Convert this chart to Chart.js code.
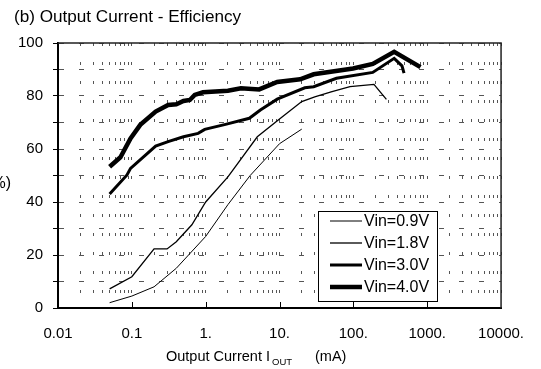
<!DOCTYPE html>
<html>
<head>
<meta charset="utf-8">
<script src="https://cdn.jsdelivr.net/npm/chart.js@4/dist/chart.umd.min.js"></script>
<style>
  html, body { margin: 0; padding: 0; background: #fff; }
  #wrap { width: 541px; height: 369px; position: relative; }
</style>
</head>
<body>
<div id="wrap"><canvas id="chart" width="541" height="369"></canvas></div>
<script>
// efficiency curves (x in mA, y in %)
const vin09X = [0.05, 0.1, 0.2, 0.4, 1.0, 2.0, 4.0, 10, 20];
const vin09Y = [2.0, 4.5, 8.0, 15.0, 27.0, 39.0, 50.0, 62.0, 67.5];

const vin18X = [0.05, 0.1, 0.2, 0.3, 0.4, 0.65, 1.0, 2.0, 5.0, 10, 20, 30, 50, 90, 190, 280];
const vin18Y = [7.2, 11.8, 22.3, 22.3, 25.0, 31.4, 40.0, 49.5, 64.6, 71.3, 77.9, 79.7, 81.6, 83.5, 84.4, 78.7];

const vin30X = [0.05, 0.086, 0.096, 0.21, 0.31, 0.5, 0.79, 0.97, 1.8, 3.9, 5.5, 9.3, 22, 29, 59, 183, 357, 455, 485];
const vin30Y = [43.0, 50.2, 52.7, 61.1, 62.8, 64.6, 65.9, 67.4, 69.2, 71.6, 74.7, 78.8, 83.1, 83.5, 86.7, 88.9, 94.2, 91.4, 88.6];

const vin40X = [0.05, 0.07, 0.096, 0.13, 0.21, 0.31, 0.4, 0.5, 0.61, 0.71, 0.92, 2.0, 3.0, 5.3, 9.3, 19, 29, 99, 183, 357, 810];
const vin40Y = [53.3, 56.9, 64.0, 69.1, 74.1, 76.6, 76.9, 78.1, 78.5, 80.4, 81.4, 82.0, 82.9, 82.5, 85.3, 86.3, 88.2, 90.4, 92.1, 96.7, 90.9];

const seriesLabels = ['Vin=0.9V', 'Vin=1.8V', 'Vin=3.0V', 'Vin=4.0V'];
const seriesWidths = [1, 1.3, 3, 4.5];

const xDecades = [0.01, 0.1, 1, 10, 100, 1000, 10000];
const xDecadeLabels = ['0.01', '0.1', '1.', '10.', '100.', '1000.', '10000.'];
const yLabelValues = [0, 20, 40, 60, 80, 100];

const FONT = '"Liberation Sans", Arial, sans-serif';

function pairs(xs, ys) {
  return xs.map((x, i) => ({ x: x, y: ys[i] }));
}

const allX = [vin09X, vin18X, vin30X, vin40X];
const allY = [vin09Y, vin18Y, vin30Y, vin40Y];

// frame, inside decade ticks, legend and titles
const decorPlugin = {
  id: 'decor',
  afterDatasetsDraw(chart) {
    const ctx = chart.ctx;
    const a = chart.chartArea;
    const xs = chart.scales.x;

    ctx.save();
    // top and right frame
    ctx.strokeStyle = '#222';
    ctx.lineWidth = 1.5;
    ctx.beginPath();
    ctx.moveTo(a.left, a.top);
    ctx.lineTo(a.right, a.top);
    ctx.lineTo(a.right, a.bottom);
    ctx.stroke();

    // decade ticks pointing up from the bottom axis
    ctx.strokeStyle = '#000';
    ctx.lineWidth = 1;
    xDecades.slice(1, -1).forEach(v => {
      const px = Math.round(xs.getPixelForValue(v)) + 0.5;
      ctx.beginPath();
      ctx.moveTo(px, a.bottom);
      ctx.lineTo(px, a.bottom - 6);
      ctx.stroke();
    });

    // legend box
    const lx = 318, ly = 211, lw = 119, lh = 90;
    ctx.fillStyle = '#fff';
    ctx.fillRect(lx, ly, lw, lh);
    ctx.strokeStyle = '#000';
    ctx.lineWidth = 1;
    ctx.strokeRect(lx + 0.5, ly + 0.5, lw, lh);
    ctx.font = '16px ' + FONT;
    ctx.textBaseline = 'middle';
    ctx.textAlign = 'left';
    chart.data.datasets.forEach((ds, i) => {
      const ry = 221 + i * 22;
      ctx.strokeStyle = '#000';
      ctx.lineWidth = ds.borderWidth;
      ctx.beginPath();
      ctx.moveTo(330, ry);
      ctx.lineTo(362, ry);
      ctx.stroke();
      ctx.fillStyle = '#000';
      ctx.fillText(ds.label, 364, ry + 1);
    });

    // titles
    ctx.fillStyle = '#000';
    ctx.font = '16px ' + FONT;
    ctx.save();
    ctx.translate(14, 18);
    ctx.scale(1.07, 1);
    ctx.fillText('(b) Output Current - Efficiency', 0, 0);
    ctx.restore();

    ctx.font = '16px ' + FONT;
    ctx.textAlign = 'right';
    ctx.fillText('(%)', 11, 184);

    ctx.textAlign = 'left';
    ctx.font = '14.5px ' + FONT;
    ctx.fillText('Output Current I', 166, 357);
    ctx.font = '9.5px ' + FONT;
    ctx.fillText('OUT', 272, 362);
    ctx.font = '14.5px ' + FONT;
    ctx.fillText('(mA)', 315, 357);
    ctx.restore();
  }
};

new Chart(document.getElementById('chart'), {
  type: 'line',
  data: {
    datasets: seriesLabels.map((label, i) => ({
      label: label,
      data: pairs(allX[i], allY[i]),
      borderColor: '#000',
      borderWidth: seriesWidths[i],
      pointRadius: 0,
      tension: 0,
      fill: false
    }))
  },
  options: {
    responsive: false,
    animation: false,
    layout: { padding: { left: 0, right: 35, top: 43, bottom: 0 } },
    plugins: {
      legend: { display: false },
      tooltip: { enabled: false },
      title: { display: false }
    },
    scales: {
      x: {
        type: 'logarithmic',
        min: 0.01,
        max: 10000,
        afterBuildTicks(scale) {
          const ticks = [];
          for (let e = -2; e < 4; e++) {
            for (let k = 1; k < 10; k++) {
              ticks.push({ value: k * Math.pow(10, e) });
            }
          }
          ticks.push({ value: 10000 });
          scale.ticks = ticks;
        },
        afterFit(scale) { scale.height = 61; },
        ticks: {
          autoSkip: false,
          maxRotation: 0,
          padding: 17,
          color: '#000',
          font: { family: FONT, size: 15 },
          callback(value) {
            const idx = xDecades.findIndex(d => Math.abs(d - value) / d < 1e-6);
            return idx >= 0 ? xDecadeLabels[idx] : '';
          }
        },
        grid: {
          color: '#555',
          lineWidth: 1,
          drawTicks: false
        },
        border: { display: true, color: '#000', width: 2, dash: [3, 16], dashOffset: 0 }
      },
      y: {
        min: 0,
        max: 100,
        afterFit(scale) { scale.width = 58; },
        ticks: {
          stepSize: 10,
          padding: 10,
          color: '#000',
          font: { family: FONT, size: 15 },
          callback(value) {
            return yLabelValues.includes(value) ? String(value) : '';
          }
        },
        grid: {
          color: '#555',
          lineWidth: 1,
          drawTicks: true,
          tickLength: 5,
          tickColor: '#000',
          tickBorderDash: []
        },
        border: { display: true, color: '#000', width: 2, dash: [5, 15], dashOffset: 0 }
      }
    }
  },
  plugins: [decorPlugin]
});
</script>
</body>
</html>
